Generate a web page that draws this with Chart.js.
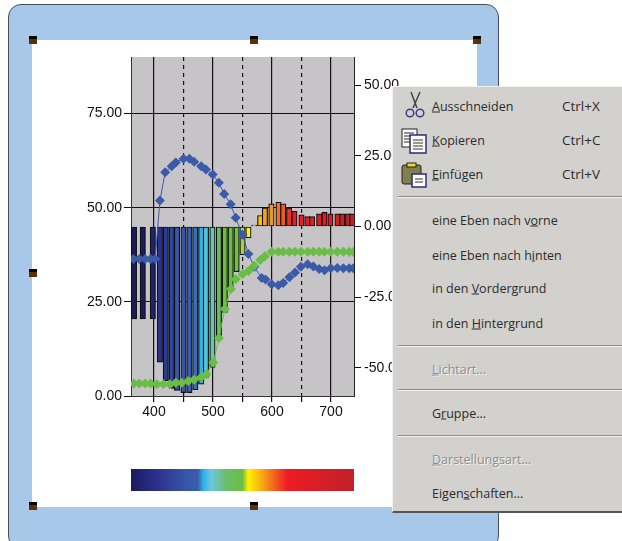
<!DOCTYPE html>
<html>
<head>
<meta charset="utf-8">
<title>Spektrum</title>
<script src="https://cdn.jsdelivr.net/npm/chart.js@4/dist/chart.umd.js"></script>
<style>
  html, body { margin: 0; padding: 0; background: #fff; overflow: hidden; }
  #stage { position: relative; width: 622px; height: 541px; overflow: hidden; }
  #frame { position: absolute; left: 8px; top: 4px; width: 491px; height: 545px; background: #a8c8ea;
           border: 1.5px solid #4a4f57; border-radius: 13px; box-sizing: border-box; }
  #sheet { position: absolute; left: 32px; top: 40px; width: 445px; height: 467px; background: #fff; }
  canvas { position: absolute; left: 0; top: 0; }
  .handle { position: absolute; width: 8px; height: 8px; background: #5a3208; border-top: 3px solid #000; box-sizing: border-box; }
  #menu { position: absolute; left: 392px; top: 86px; width: 240px; height: 427px; background: #d3d1ce;
          border-top: 1px solid #f2f1ef; border-left: 1px solid #f2f1ef; border-bottom: 2px solid #54565a; box-sizing: border-box;
          font: 12.5px "Open Sans", sans-serif; color: #2b2b2b; }
  #menu .item, #menu .key { position: absolute; white-space: nowrap; transform: translateY(-50%); }
  #menu .key { font-size: 13.5px; }
  #menu .off { color: #8f8e8c; text-shadow: 1px 1px 0 #f4f3f1; }
  #menu .sep { position: absolute; left: 5px; right: 0; height: 1px; background: #8d8c8a; border-bottom: 1px solid #f4f3f1; }
  #menu svg { position: absolute; }
</style>
</head>
<body>
<div id="stage">
  <div id="frame"></div>
  <div id="sheet"></div>
  <canvas id="myChart" width="622" height="541"></canvas>
  <div class="handle" style="left:29px;top:36px"></div>
  <div class="handle" style="left:250px;top:36px"></div>
  <div class="handle" style="left:473px;top:36px"></div>
  <div class="handle" style="left:29px;top:269px"></div>
  <div class="handle" style="left:29px;top:502px"></div>
  <div class="handle" style="left:250px;top:502px"></div>
  <div id="menu">
    <svg style="left:10px;top:4px" width="24" height="28" viewBox="0 0 24 28" fill="none" stroke="#3c3c8c" stroke-width="1.5">
      <path d="M8 1 L14 17 M17 1 L10 17" stroke="#444"/>
      <circle cx="7" cy="22" r="3.8"/><circle cx="17" cy="22" r="3.8"/>
    </svg>
    <svg style="left:8px;top:41px" width="28" height="26" viewBox="0 0 28 26">
      <rect x="1" y="1" width="15" height="18" fill="#fff" stroke="#222"/>
      <path d="M3 5h10M3 8h10M3 11h10M3 14h10" stroke="#222"/>
      <rect x="9" y="7" width="16" height="18" fill="#fff" stroke="#2b2b80" stroke-width="1.5"/>
      <path d="M12 12h10M12 15h10M12 18h10M12 21h10" stroke="#333"/>
    </svg>
    <svg style="left:8px;top:75px" width="28" height="26" viewBox="0 0 28 26">
      <rect x="1" y="3" width="19" height="19" rx="2" fill="#7f7f4f" stroke="#222"/>
      <rect x="6" y="1" width="9" height="4" fill="#f2d530" stroke="#222"/>
      <rect x="11" y="12" width="14" height="13" fill="#fff" stroke="#2b2b80" stroke-width="1.5"/>
      <path d="M14 17h8M14 20h8" stroke="#333"/>
    </svg>
  </div>
</div>
<script>
const xTicks = [400, 450, 500, 550, 600, 650, 700];
const leftTicks = [0, 25, 50, 75];
const rightTicks = [-50, -25, 0, 25, 50];

const barNm = [366, 381, 398, 410, 420, 430, 439, 450, 460, 470, 480, 488, 499, 510, 520, 530, 540, 550, 560, 570,
  580, 588, 599, 611, 619, 629, 638, 650, 660, 668, 680, 689, 699, 711, 719, 729, 736];
const barValues = [-32.7, -32.7, -32.7, -48, -54.6, -57.3, -58, -58.8, -58.8, -57.8, -55.8, -53.4, -49.9, -38.6, -30.4, -22.7, -16, -10, -4, 0.5,
  3.9, 6.6, 8, 8.6, 8, 6.6, 5.4, 4.1, 3.5, 3.5, 4.5, 5, 4.5, 4.5, 4.5, 4.5, 4.5];
const barColors = ["#1b1b5e", "#1b1b5e", "#20226e", "#2a3190", "#2a3a98", "#30479f", "#3a56a8", "#3a56a8", "#3a5cad", "#3570b8", "#2bb5e8", "#55c4dc", "#6cc5b0", "#6cbd5a", "#6cbd45", "#6cbd45", "#74c043", "#a8cf45", "#fff200", "#fff200",
  "#fdc010", "#f9a01b", "#f7941d", "#f37021", "#f15a24", "#ee3124", "#ed1c24", "#ed1c24", "#e41e26", "#e41e26", "#d9202a", "#d9202a", "#d2202a", "#d2202a", "#c8202a", "#c8202a", "#c1202b"];

const blueNm = [365, 375, 385, 394, 402, 410, 419, 430, 437, 450, 460, 468, 480, 488, 499.5, 510, 519, 530, 538.5, 550, 560, 570,
  582.5, 589, 599.5, 610.7, 619, 629.5, 639, 649, 660.5, 670, 680, 689, 699.5, 710.7, 721, 731, 738];
const blueValues = [36.4, 36.4, 36.4, 36.4, 36.4, 51.9, 59.4, 61, 62, 63, 63, 62.2, 61, 60.1, 58.8, 56.6, 53.6, 50.9, 47.3, 42.8, 37.7, 34.3,
  31.3, 30.9, 29.7, 29.4, 30, 31.5, 32.8, 34.3, 35, 34.4, 33.7, 33.4, 33.9, 34, 33.9, 33.9, 33.9];

const greenNm = [366, 375, 385, 394, 405, 416, 427, 437, 447, 458, 468, 480, 489, 500.5, 510, 520, 530.5, 538.5, 550, 560, 569.5, 580, 588,
  599.5, 610.7, 619, 629.5, 639, 649, 660.5, 670, 680, 689, 699.5, 710.7, 721, 731, 738];
const greenValues = [3.3, 3.3, 3.3, 3.3, 3.1, 3.1, 3.1, 3.5, 3.5, 4, 4.3, 5, 5.8, 8.9, 15.4, 23.1, 28.4, 31, 32.4, 33.2, 34.6, 36.1, 37.1,
  38.3, 38.3, 38.3, 38.3, 38.3, 38.3, 38.3, 38.3, 38.3, 38.3, 38.3, 38.3, 38.3, 38.3, 38.3];

const spectrumStops = [[0, "#1b1b5e"], [0.12, "#2a3190"], [0.25, "#3a56a8"], [0.3, "#3a5cad"], [0.325, "#2bb5e8"], [0.36, "#6cc8dc"],
  [0.43, "#6cbd6a"], [0.5, "#6cbd45"], [0.525, "#fff200"], [0.58, "#fbb016"], [0.7, "#ed1c24"], [1, "#c1202b"]];

const menuItems = [
  ["<u>A</u>usschneiden", 106, "Ctrl+X"],
  ["<u>K</u>opieren", 140, "Ctrl+C"],
  ["<u>E</u>infügen", 174, "Ctrl+V"],
  ["eine Eben nach v<u>o</u>rne", 220],
  ["eine Eben nach h<u>i</u>nten", 254.5],
  ["in den <u>V</u>ordergrund", 288],
  ["in den <u>H</u>intergrund", 323],
  ["<u>L</u>ichtart...", 369, null, true],
  ["G<u>r</u>uppe...", 413],
  ["<u>D</u>arstellungsart...", 459, null, true],
  ["Eigen<u>s</u>chaften...", 493]
];
const menuSeparators = [196, 345, 389, 435];

const menu = document.getElementById("menu");
menuItems.forEach(([label, y, key, off]) => {
  const el = document.createElement("div");
  el.className = off ? "item off" : "item";
  el.innerHTML = label;
  el.style.left = "39px";
  el.style.top = y - 87 + "px";
  menu.appendChild(el);
  if (key) {
    const k = document.createElement("div");
    k.className = "key";
    k.textContent = key;
    k.style.left = "169px";
    k.style.top = y - 87 + "px";
    menu.appendChild(k);
  }
});
menuSeparators.forEach(y => {
  const el = document.createElement("div");
  el.className = "sep";
  el.style.top = y - 87 + "px";
  menu.appendChild(el);
});

const points = (xs, ys) => xs.map((x, i) => ({ x, y: ys[i] }));
const keepTicks = list => scale => {
  scale.ticks = list.map(value => ({ value }));
};
const fixWidth = w => scale => { scale.width = w; };

const plotBack = {
  id: "plotBack",
  beforeDraw(chart) {
    const { ctx, chartArea: a } = chart;
    ctx.save();
    ctx.fillStyle = "#c6c4c6";
    ctx.fillRect(a.left, a.top, a.width, a.height);
    ctx.restore();
  },
  afterDraw(chart) {
    const { ctx, chartArea: a } = chart;
    ctx.save();
    const g = ctx.createLinearGradient(a.left, 0, a.right, 0);
    spectrumStops.forEach(([p, c]) => g.addColorStop(p, c));
    ctx.fillStyle = g;
    ctx.fillRect(a.left, 469, a.width, 22);
    ctx.restore();
  }
};

new Chart(document.getElementById("myChart").getContext("2d"), {
  type: "bar",
  data: {
    datasets: [
      {
        type: "line",
        data: points(greenNm, greenValues),
        yAxisID: "y",
        order: 1,
        borderColor: "#6abd45",
        borderWidth: 1,
        backgroundColor: "#6abd45",
        pointStyle: "rectRot",
        pointRadius: 5,
        pointBorderWidth: 0
      },
      {
        type: "line",
        data: points(blueNm, blueValues),
        yAxisID: "y",
        order: 2,
        borderColor: "#3b5ba9",
        borderWidth: 1,
        backgroundColor: "#3b5ba9",
        pointStyle: "rectRot",
        pointRadius: 5,
        pointBorderWidth: 0
      },
      {
        data: points(barNm, barValues),
        yAxisID: "y1",
        order: 3,
        backgroundColor: barColors,
        borderColor: "#111",
        borderWidth: 1.2,
        borderSkipped: false,
        barThickness: 5.4
      }
    ]
  },
  options: {
    responsive: false,
    animation: false,
    layout: { padding: { left: 0, right: 0, top: 57, bottom: 0 } },
    plugins: { legend: { display: false }, tooltip: { enabled: false } },
    scales: {
      x: {
        type: "linear",
        offset: false,
        min: 361,
        max: 739,
        afterBuildTicks: keepTicks(xTicks),
        afterFit: scale => { scale.height = 145; },
        grid: {
          offset: false,
          color: "#111",
          lineWidth: 1.2,
          tickColor: "#111",
          tickLength: 6
        },
        border: {
          color: "#333",
          dash: ctx => (ctx.tick && ctx.tick.value % 100 === 50 ? [4, 4] : [])
        },
        ticks: {
          color: "#111",
          font: { family: "Liberation Sans", size: 14 },
          maxRotation: 0,
          autoSkip: false,
          padding: 2,
          callback: v => (v % 100 === 0 ? String(v) : "")
        }
      },
      y: {
        position: "left",
        min: 0,
        max: 90,
        afterBuildTicks: keepTicks(leftTicks),
        afterFit: fixWidth(131),
        grid: { color: "#111", tickColor: "#111", tickLength: 7 },
        border: { color: "#333" },
        ticks: {
          color: "#111",
          font: { family: "Liberation Sans", size: 14 },
          padding: 2,
          autoSkip: false,
          callback: v => v.toFixed(2)
        }
      },
      y1: {
        position: "right",
        min: -60,
        max: 60,
        afterBuildTicks: keepTicks(rightTicks),
        afterFit: fixWidth(268),
        grid: { drawOnChartArea: false, color: "#111", tickColor: "#111", tickLength: 7 },
        border: { color: "#222" },
        ticks: {
          color: "#111",
          font: { family: "Liberation Sans", size: 14 },
          padding: 3,
          autoSkip: false,
          callback: v => v.toFixed(2)
        }
      }
    }
  },
  plugins: [plotBack]
});
</script>
</body>
</html>
